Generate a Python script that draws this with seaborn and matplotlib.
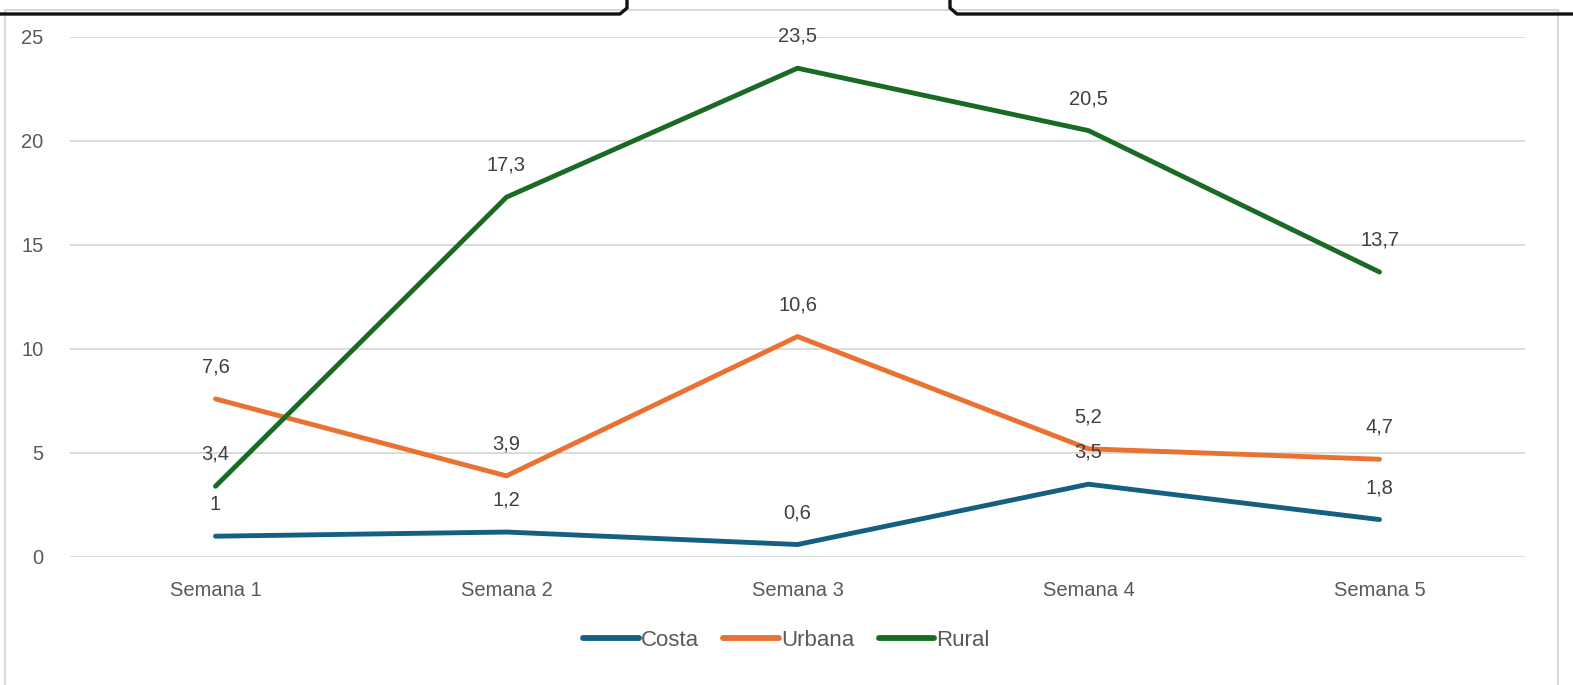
import pandas as pd
import seaborn as sns
import matplotlib.pyplot as plt
from matplotlib.lines import Line2D
from matplotlib.patches import Rectangle

# data
semanas = ["Semana 1", "Semana 2", "Semana 3", "Semana 4", "Semana 5"]
costa = [1.0, 1.2, 0.6, 3.5, 1.8]
urbana = [7.6, 3.9, 10.6, 5.2, 4.7]
rural = [3.4, 17.3, 23.5, 20.5, 13.7]
series_names = ["Costa", "Urbana", "Rural"]
colors = ["#156082", "#E97132", "#196B24"]


def fmt_es(v):
    s = f"{v:g}"
    return s.replace(".", ",")


def main():
    df = pd.DataFrame({"Semana": semanas, "Costa": costa, "Urbana": urbana, "Rural": rural})
    long_df = df.melt(id_vars="Semana", var_name="Serie", value_name="Valor")

    sns.set_style("white")
    plt.rcParams["font.family"] = ["Liberation Sans", "DejaVu Sans"]

    W, H = 1573, 685
    fig = plt.figure(figsize=(W / 100, H / 100), dpi=100)
    ax = fig.add_axes([70 / W, 1 - 557 / H, 1455 / W, 520 / H])

    sns.lineplot(
        data=long_df, x="Semana", y="Valor", hue="Serie",
        hue_order=series_names, palette=colors, linewidth=3.5,
        sort=False, ax=ax, legend=False,
    )
    for line in ax.lines:
        line.set_solid_capstyle("round")
        line.set_solid_joinstyle("round")

    # data labels above each point
    for name in series_names:
        for i, v in enumerate(df[name]):
            ax.annotate(fmt_es(v), (i, v), xytext=(0, 23), textcoords="offset points",
                        ha="center", va="center", fontsize=14.5, color="#404040")

    ax.set_xlim(-0.5, len(semanas) - 0.5)
    ax.set_ylim(0, 25)
    ax.set_yticks([0, 5, 10, 15, 20, 25])
    ax.set_xlabel("")
    ax.set_ylabel("")
    ax.grid(axis="y", color="#D9D9D9", linewidth=1.3)
    ax.set_axisbelow(True)
    for sp in ax.spines.values():
        sp.set_visible(False)
    ax.tick_params(axis="both", length=0, labelsize=14.5, labelcolor="#595959")
    ax.tick_params(axis="y", pad=19)
    ax.tick_params(axis="x", pad=17)

    handles = [Line2D([0], [0], color=c, lw=4.2, solid_capstyle="round") for c in colors]
    leg = fig.legend(handles, series_names, loc="center", bbox_to_anchor=(0.5, 1 - 640 / H),
                     ncol=3, frameon=False, fontsize=16, handlelength=2.5,
                     handletextpad=0.1, columnspacing=1.1)
    for t in leg.get_texts():
        t.set_color("#595959")

    # chart frame and the connector line visible in the screenshot
    fig.add_artist(Rectangle((5 / W, -0.1), 1553 / W, 1.1 - 10 / H, transform=fig.transFigure,
                             fill=False, edgecolor="#D9D9D9", linewidth=1.5))
    fig.add_artist(Line2D([0, 620 / W, 627 / W, 627 / W], [1 - 14 / H, 1 - 14 / H, 1 - 8 / H, 1.0],
                          transform=fig.transFigure, color="#111111", linewidth=2.4))
    fig.add_artist(Line2D([950 / W, 950 / W, 957 / W, 1.0], [1.0, 1 - 8 / H, 1 - 14 / H, 1 - 14 / H],
                          transform=fig.transFigure, color="#111111", linewidth=2.4))

    fig.savefig("out.png", dpi=100)


if __name__ == "__main__":
    main()
